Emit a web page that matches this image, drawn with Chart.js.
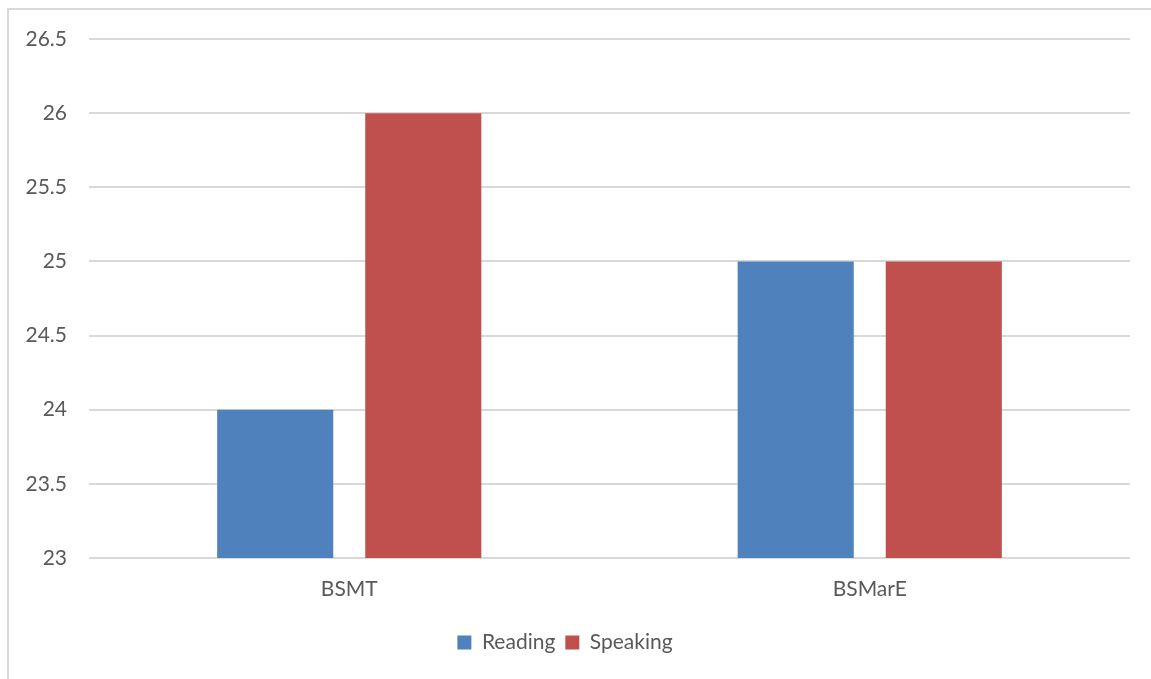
<!DOCTYPE html>
<html>
<head>
<meta charset="utf-8">
<script src="https://cdn.jsdelivr.net/npm/chart.js@4"></script>
<style>
  body { margin: 0; background: #fff; overflow: hidden; }
  #frame { position: absolute; left: 7px; top: 8px; width: 1200px; height: 720px; border: 2px solid #d9d9d9; box-sizing: border-box; }
  #wrap { position: absolute; left: 0; top: 0; width: 1151px; height: 679px; }
</style>
</head>
<body>
<div id="frame"></div>
<div id="wrap"><canvas id="chart" width="1151" height="679"></canvas></div>
<script>
// --- data ---
const categories = ['BSMT', 'BSMarE'];
const readingValues = [24, 25];
const speakingValues = [26, 25];
const yMin = 23, yMax = 26.5, yStep = 0.5;

const textColor = '#595959';
const gridColor = '#d9d9d9';
const fontFamily = 'Lato, "Open Sans", sans-serif';

const ctx = document.getElementById('chart').getContext('2d');
new Chart(ctx, {
    type: 'bar',
    data: {
        labels: categories,
        datasets: [
            { label: 'Reading', data: readingValues, backgroundColor: '#4F81BD' },
            { label: 'Speaking', data: speakingValues, backgroundColor: '#C0504D' }
        ]
    },
    options: {
        responsive: false,
        animation: false,
        layout: { padding: { top: 39, right: 21, bottom: 16, left: 0 } },
        datasets: {
            bar: { categoryPercentage: 0.569, barPercentage: 0.784 }
        },
        plugins: {
            tooltip: { enabled: false },
            legend: {
                position: 'bottom',
                labels: {
                    color: textColor,
                    font: { family: fontFamily, size: 21 },
                    boxWidth: 14,
                    boxHeight: 14,
                    padding: 10
                }
            }
        },
        scales: {
            x: {
                grid: { display: false },
                border: { display: false },
                ticks: { color: textColor, font: { family: fontFamily, size: 21 }, padding: 11 },
                afterFit: (axis) => { axis.height = 64; }
            },
            y: {
                min: yMin,
                max: yMax,
                grid: { color: gridColor, lineWidth: 2, drawTicks: false },
                border: { display: false },
                ticks: {
                    stepSize: yStep,
                    color: textColor,
                    font: { family: fontFamily, size: 21 },
                    padding: 22,
                    callback: (value) => String(value)
                },
                afterFit: (axis) => { axis.width = 89; }
            }
        }
    }
});
</script>
</body>
</html>
